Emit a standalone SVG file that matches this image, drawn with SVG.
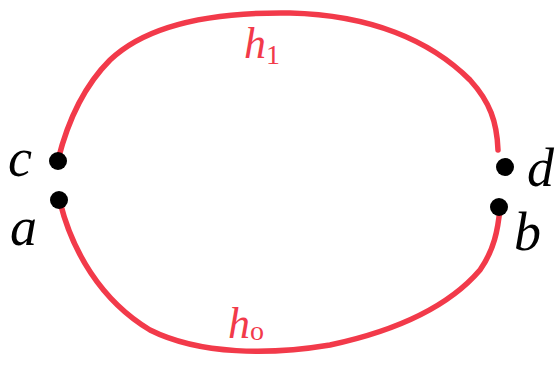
<svg xmlns="http://www.w3.org/2000/svg" width="557" height="374" viewBox="0 0 557 374">
<style>
.arc{fill:none;stroke:#f23a4a;stroke-width:5.5;stroke-linecap:round;stroke-linejoin:round}
.dot{fill:#000}
.lbl{font-family:"Liberation Serif",serif;font-style:italic;fill:#000;font-size:54px}
.hl{font-family:"Liberation Serif",serif;font-style:italic;fill:#f23a4a;font-size:44px}
.sub{font-size:28px;font-style:normal}
</style>
<rect width="557" height="374" fill="#fff"/>
<g id="connectors">
<path id="h1" class="arc" d="M58,160 C66,128 80,90 110,60 C150,22 220,12 290,13 C370,15 430,40 470,80 C490,102 497,122 498,150"/>
<path id="h0" class="arc" d="M60,202 C72,250 100,300 150,330 C200,355 270,355 330,345 C400,330 450,305 480,270 C494,250 498,230 500,208"/>
</g>
<g id="node-c"><circle class="dot" cx="58" cy="161" r="9"/><text class="lbl" x="8" y="176">c</text></g>
<g id="node-a"><circle class="dot" cx="59" cy="200" r="9"/><text class="lbl" x="10" y="245">a</text></g>
<g id="node-d"><circle class="dot" cx="505" cy="167" r="9"/><text class="lbl" x="527" y="186">d</text></g>
<g id="node-b"><circle class="dot" cx="499" cy="207" r="9"/><text class="lbl" x="514" y="250">b</text></g>
<g id="label-h1"><text class="hl" x="244" y="58">h<tspan class="sub" dy="6">1</tspan></text></g>
<g id="label-h0"><text class="hl" x="228" y="338">h<tspan class="sub" dy="2">o</tspan></text></g>
</svg>
